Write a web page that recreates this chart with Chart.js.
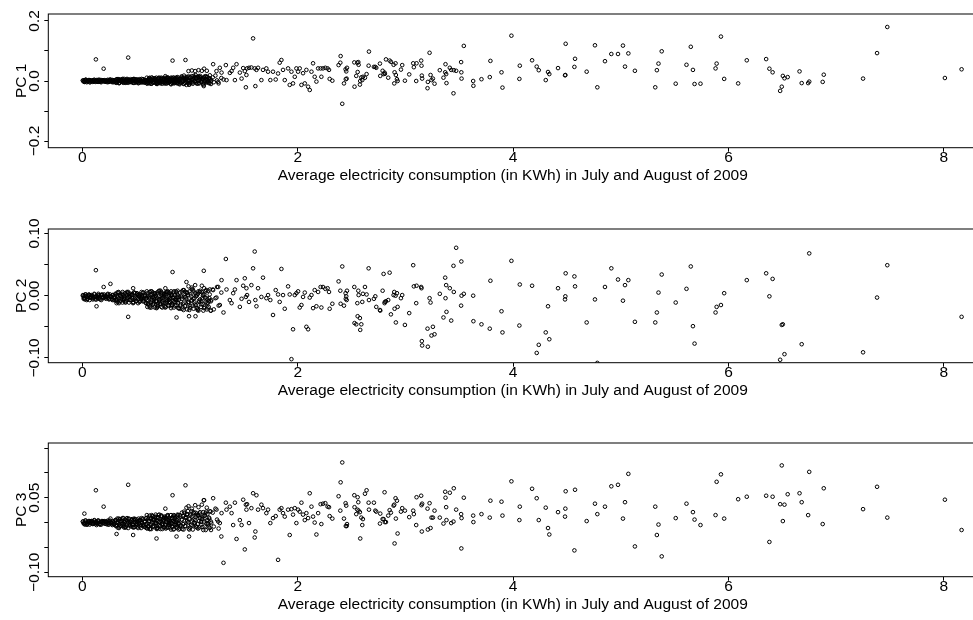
<!DOCTYPE html>
<html>
<head>
<meta charset="utf-8">
<script src="https://cdn.jsdelivr.net/npm/chart.js@4/dist/chart.umd.min.js"></script>
<style>
  html, body { margin: 0; padding: 0; background: #fff; overflow: hidden; }
  #wrap { position: relative; width: 973px; height: 620px; overflow: hidden; }
  canvas { position: absolute; left: 0; }
</style>
</head>
<body>
<div id="wrap">
  <canvas id="pc1-chart" width="980" height="191" style="top:0px"></canvas>
  <canvas id="pc2-chart" width="980" height="191" style="top:215px"></canvas>
  <canvas id="pc3-chart" width="980" height="191" style="top:429.3px"></canvas>
</div>
<script>
// average consumption (kWh) per household, same x for the three panels
const consumption = [
  // dense band
  0.005,0.018,0.03,0.045,0.06,0.072,0.088,0.1,0.115,0.13,0.145,0.16,0.175,0.19,0.205,0.22,0.235,0.25,0.265,0.28,0.295,
  0.305,0.312,0.32,0.327,0.335,0.342,0.35,0.357,0.365,0.372,0.38,0.387,0.395,0.402,0.41,0.417,0.425,0.432,0.44,0.447,0.455,0.462,0.47,0.477,0.485,0.492,0.5,0.507,0.515,0.522,0.53,0.537,0.545,0.552,0.56,0.567,0.575,0.582,0.59,0.597,
  0.605,0.612,0.62,0.627,0.635,0.642,0.65,0.657,0.665,0.672,0.68,0.687,0.695,0.702,0.71,0.717,0.725,0.732,0.74,0.747,0.755,0.762,0.77,0.777,0.785,0.792,0.8,0.807,0.815,0.822,0.83,0.837,0.845,0.852,0.86,0.867,0.875,0.882,0.89,0.897,
  0.905,0.912,0.92,0.927,0.935,0.942,0.95,0.957,0.965,0.972,0.98,0.987,0.995,1.002,1.01,1.017,1.025,1.032,1.04,1.047,1.055,1.062,1.07,1.077,1.085,1.092,1.1,1.107,1.115,1.122,1.13,1.137,1.145,1.152,1.16,1.167,1.175,1.182,1.19,1.197,
  1.21,1.22,1.235,1.25,1.265,
  0.985,1.016,1.047,1.078,1.109,1.13,1.155,
  0.125,0.197,0.26,0.425,0.837,0.957,1.127,0.131,0.874,0.99,1.05,0.018,0.317,0.471,0.688,0.77,0.966,
  // 1.2 - 2.2
  1.214,1.245,1.276,1.292,1.332,1.369,1.385,1.4,1.431,1.462,1.493,1.508,1.523,1.529,1.547,1.569,1.585,1.6,1.616,1.631,
  1.677,1.708,1.724,1.745,1.77,1.795,1.817,1.832,1.848,1.863,1.879,1.91,1.925,1.941,1.956,1.972,1.987,2.003,2.018,2.034,
  2.049,2.065,2.08,2.096,2.111,2.127,2.142,2.157,2.173,2.189,1.261,1.338,1.416,1.478,1.518,1.606,1.662,1.31,1.29,
  // 2.2 - 5.2
  2.212,2.234,2.256,2.277,2.29,2.219,2.296,2.321,2.379,2.398,
  2.395,2.413,2.429,2.444,2.45,2.457,2.446,2.454,2.525,2.527,
  2.543,2.553,2.562,2.565,2.556,2.577,2.58,2.59,2.605,2.599,
  2.624,2.639,2.658,2.661,2.707,2.72,2.729,2.763,2.766,2.788,
  2.797,2.806,2.809,2.819,2.84,2.853,2.865,2.89,2.896,2.899,
  2.911,2.908,2.921,2.927,2.958,2.97,2.995,3.035,3.072,3.078,
  3.1,3.103,3.146,3.149,3.152,3.155,3.205,3.208,3.224,3.233,
  3.242,3.255,3.27,3.319,3.353,3.369,3.372,3.378,3.381,3.412,
  3.425,3.449,3.471,3.446,3.517,3.519,3.521,3.542,3.629,3.631,
  3.706,3.783,3.789,3.892,3.901,3.984,4.062,4.058,4.176,4.219,
  4.238,4.303,4.324,4.336,4.417,4.485,4.488,4.482,4.569,4.575,
  4.683,4.76,4.782,4.853,4.912,4.974,5.02,5.039,5.07,5.131,
  // 5.3 and up
  5.32,5.335,5.35,5.38,5.51,5.61,5.65,5.67,5.685,5.74,5.88,5.89,5.93,5.96,6.09,6.17,6.35,6.38,6.41,6.48,
  6.495,6.505,6.52,6.55,6.66,6.68,6.74,6.75,6.875,6.885,7.25,7.38,7.475,8.01,8.165,
  // more of the dense band
  0.012,0.026,0.04,0.054,0.068,0.082,0.096,0.11,0.124,0.138,0.152,0.166,0.18,0.194,0.208,0.222,0.236,0.25,0.264,0.278,
  0.309,0.324,0.339,0.354,0.369,0.384,0.399,0.414,0.429,0.444,0.459,0.474,0.489,0.504,0.519,0.534,0.549,0.564,0.579,0.594,
  0.609,0.624,0.639,0.654,0.669,0.684,0.699,0.714,0.729,0.744,0.759,0.774,0.789,0.804,0.819,0.834,0.849,0.864,0.879,0.894,
  0.909,0.924,0.939,0.954,0.969,0.984,0.999,1.014,1.029,1.044,1.059,1.074,1.089,1.104,1.119,1.134,1.149,1.164,1.179,1.194,
  0.004,0.013,0.022,0.031,0.04,0.049,0.058,0.067,0.076,0.085,0.094,0.103,0.112,0.121,0.13,0.139,0.148,0.157,0.166,0.175,0.184,0.193,0.202,0.211,0.22,0.229,0.238,0.247,0.256,0.265,0.274,0.283,0.292,
  0.301,0.31,0.319,0.328,0.337,0.346,0.355,0.364,0.373,0.382,0.391,0.4,0.409,0.418,0.427,0.436,0.445,0.454,0.463,0.472,0.481,0.49,0.499,0.508,0.517,0.526,0.535,0.544,0.553,0.562,0.571,0.58,0.589,
  0.598,0.607,0.616,0.625,0.634,0.643,0.652,0.661,0.67,0.679,0.688,0.697,0.706,0.715,0.724,0.733,0.742,0.751,0.76,0.769,0.778,0.787,0.796,0.805,0.814,0.823,0.832,0.841,0.85,0.859,0.868,0.877,0.886,0.895,
  0.603,0.613,0.623,0.633,0.643,0.653,0.663,0.673,0.683,0.693,0.703,0.713,0.723,0.733,0.743,0.753,0.763,0.773,0.783,0.793,0.803,0.813,0.823,0.833,0.843,0.853,0.863,0.873,0.883,0.893,
  0.903,0.913,0.923,0.933,0.943,0.953,0.963,0.973,0.983,0.993,1.003,1.013,1.023,1.033,1.043,1.053,1.063,1.073,1.083,1.093,1.103,1.113,1.123,1.133,1.143,1.153,1.163,1.173,1.183,1.193
];

const pc1 = [
  .001,-.003,.004,0,.002,-.004,0,.003,-.002,.001,-.003,.004,-.001,.002,-.002,0,-.004,.002,-.001,.003,-.002,
  .001,-.005,.006,-.001,.004,-.007,0,.005,-.003,.002,-.006,.007,-.002,.004,-.004,.001,-.006,.003,-.002,.006,-.004,.002,0,.007,-.006,.001,.005,-.003,.003,-.007,.006,-.001,0,-.005,.005,-.002,.004,-.005,.002,-.001,
  .003,-.006,.010,0,.006,-.009,.001,.008,-.003,.004,-.007,.011,-.002,.007,-.005,.002,-.008,.006,-.002,.009,-.005,.005,.001,.011,-.008,.003,.008,-.004,.005,-.009,.010,-.001,.002,-.006,.009,-.003,.007,-.007,.004,-.001,
  .006,-.006,.015,.002,.010,-.010,.003,.012,-.002,.007,-.007,.015,0,.011,-.004,.004,-.009,.009,-.001,.013,-.005,.008,.002,.016,-.008,.005,.011,-.003,.008,-.009,.014,0,.004,-.005,.013,-.002,.010,-.007,.006,.001,
  .012,-.004,.018,.002,-.008,
  .033,.035,.033,.036,.034,.041,.034,
  .072,.041,.005,.078,.068,.070,-.017,.003,.012,-.012,.02,.002,-.006,.006,-.009,.016,-.013,
  .056,.033,.044,.028,.053,.027,.033,.044,.056,.028,.043,.033,.02,.042,.044,.045,.142,.042,.037,.044,
  .037,.042,.031,.003,.031,.005,.025,.061,.07,.037,.003,.042,-.013,.031,-.008,.014,.042,.031,.042,-.013,
  .026,-.008,.037,-.019,-.03,.031,.059,.014,-.002,.042,-.003,.003,.003,.008,-.021,-.017,.003,.005,.01,
  .042,.042,.044,.042,.037,.014,.007,.001,.053,.083,
  .061,-.076,-.008,.039,.032,.044,.006,.008,.062,-.019,
  .017,.061,.063,.054,.03,-.012,0,.012,.014,.003,
  .011,.023,.051,.098,.047,.047,.044,.058,.017,.034,
  .023,.028,.024,.072,.011,.068,.064,.054,-.008,.029,
  .02,.059,.006,0,.038,.053,.001,.022,.059,.046,
  0,.059,.068,.051,.018,.008,-.024,-.003,.094,.02,
  .003,.008,-.009,.036,.011,.029,.056,.023,-.007,.044,
  .037,.036,.034,-.041,.063,.029,.008,.117,0,-.016,
  .006,.013,.067,.029,-.022,.151,.051,.007,.069,.048,
  .036,.003,.03,.023,.043,.02,.124,.019,.047,.074,
  .031,.119,-.021,.066,.09,.09,.118,.048,.092,.034,
  -.021,.036,.058,.099,-.009,.054,.114,.037,-.01,-.009,.042,.058,.148,.007,-.008,.069,.073,.041,.029,-.033,
  -.019,.017,.009,.013,.032,-.007,-.007,-.002,-.003,.021,.008,.093,.18,.01,.039,
  -.002,.003,-.004,.001,.003,-.001,-.003,.004,0,-.002,.002,-.003,.003,0,.002,-.003,.004,-.001,.001,-.004,
  -.004,.006,-.007,.002,.005,-.001,-.005,.007,.001,-.003,.004,-.006,.005,-.001,.003,-.005,.007,-.002,.001,-.007,
  -.004,.010,-.009,.004,.008,-.001,-.007,.011,.002,-.003,.007,-.008,.009,0,.005,-.006,.011,-.002,.003,-.009,
  -.004,.014,-.009,.007,.011,0,-.007,.016,.004,-.002,.010,-.008,.013,.002,.008,-.005,.015,-.001,.006,-.010,
  .002,-.001,-.003,.004,0,-.002,.003,-.004,.001,.002,-.001,0,.003,-.003,.001,-.001,.004,-.002,.001,-.004,.002,0,.003,-.002,.001,.002,-.001,-.003,.004,0,-.002,.003,-.004,
  .002,.004,-.002,0,.006,-.005,.002,-.002,.007,-.004,.001,-.006,.004,0,.005,-.003,.002,.003,-.001,-.006,.006,0,-.004,.005,-.007,.002,.004,-.002,0,.006,-.005,.002,-.002,
  .011,-.005,.003,-.008,.006,.001,.009,-.004,.004,.006,-.001,-.007,.010,.002,-.004,.008,-.009,.004,.007,-.003,.001,.010,-.006,.005,-.002,.011,-.005,.003,-.008,.006,.001,.009,-.004,.004,
  -.009,.006,.002,-.003,.012,-.006,.004,.009,-.001,-.010,.008,.001,-.005,.011,-.002,.005,-.008,.008,0,.012,-.004,.003,-.011,.007,.011,-.003,.002,-.007,.013,0,
  -.011,.009,.005,-.003,.018,-.007,.007,.014,.001,-.012,.012,.003,-.005,.017,-.001,.009,-.009,.013,.002,.017,-.003,.005,-.013,.011,.016,-.002,.004,-.007,.019,.001
];

const pc2 = [
  .001,-.004,-.001,-.005,.002,-.003,0,-.004,-.002,-.006,0,-.003,.001,-.004,-.001,-.002,.002,-.005,-.001,.001,-.004,
  .003,-.007,0,-.010,.006,-.005,.002,-.008,-.002,-.011,.001,-.006,.004,-.008,0,-.003,.006,-.011,-.002,.003,-.007,.001,-.012,.005,-.005,-.003,-.009,.004,-.006,.002,-.010,-.001,-.004,-.001,-.009,.005,-.004,.002,-.012,-.003,
  .004,-.012,-.002,-.017,.007,-.010,.002,-.014,-.005,-.019,0,-.010,.005,-.014,-.001,-.007,.008,-.018,-.004,.003,-.012,0,-.019,.006,-.009,-.005,-.015,.005,-.011,.002,-.017,-.003,-.008,-.003,-.016,.007,-.007,.001,-.020,-.006,
  .005,-.014,-.002,-.021,.009,-.011,.003,-.016,-.005,-.022,.001,-.012,.007,-.017,-.001,-.008,.010,-.021,-.004,.004,-.015,0,-.023,.007,-.010,-.006,-.018,.006,-.013,.002,-.020,-.003,-.010,-.004,-.019,.008,-.009,.002,-.024,-.007,
  .010,-.022,-.004,.014,-.016,
  .015,.013,.017,-.024,.016,.012,-.022,
  .041,.014,.019,-.034,.038,.006,.040,-.017,-.035,-.033,-.033,0,-.012,.012,-.02,.012,.022,
  .009,-.003,-.015,.025,.059,-.007,-.012,.004,.025,-.018,.016,.028,.012,.001,-.01,.017,.044,.071,-.017,.012,
  .029,-.004,.001,-.007,-.031,.009,.002,-.01,.043,.001,-.021,.015,.002,-.102,-.054,.001,.004,.007,-.019,-.015,
  -.002,.005,-.05,-.054,-.003,.001,-.02,.009,-.017,.006,.014,.01,.01,-.005,-.002,-.007,-.002,-.027,.005,
  .014,.014,.011,.012,.006,-.019,-.021,-.013,.023,-.013,
  .008,.047,-.016,.004,-.001,.008,-.005,-.007,.014,-.044,
  -.046,-.012,.008,.001,-.033,-.036,-.055,-.046,.003,-.01,
  .014,.002,.044,-.007,-.005,-.001,-.018,-.023,-.024,.008,
  .035,-.012,-.01,-.009,-.007,.037,-.03,.001,.006,-.021,
  -.043,0,.004,-.018,-.004,.001,-.047,-.028,.049,.015,
  -.012,.016,.014,.012,-.073,-.08,-.053,-.082,-.004,-.011,
  -.064,-.05,-.062,.003,-.035,.029,-.004,.017,-.026,.012,
  -.04,.006,.077,.048,-.016,.055,0,.003,0,-.041,
  -.046,-.053,.024,-.025,-.059,.056,.018,-.048,.016,-.092,
  -.079,-.059,-.017,-.07,.012,-.001,.036,-.006,.031,.015,
  -.043,-.006,-.108,.014,.044,.026,-.008,.017,.025,-.042,
  -.043,-.027,.005,.034,-.011,.011,.047,-.049,-.077,null,-.027,-.018,-.015,.004,null,.025,.036,-.001,.027,-.103,
  -.047,-.046,-.094,null,null,-.078,null,.068,null,null,-.091,-.003,.049,null,-.034,
  -.005,.002,-.007,-.001,.001,-.003,-.006,.003,-.002,-.004,.001,-.006,.002,-.003,0,-.005,.003,-.004,-.001,-.007,
  -.008,.005,-.012,0,.003,-.005,-.010,.006,-.002,-.007,.002,-.011,.004,-.004,.001,-.009,.006,-.006,-.001,-.012,
  -.013,.006,-.019,-.002,.003,-.009,-.017,.008,-.005,-.012,.002,-.018,.005,-.007,0,-.015,.007,-.010,-.003,-.020,
  -.016,.007,-.023,-.002,.004,-.010,-.020,.010,-.005,-.014,.002,-.021,.006,-.009,0,-.018,.009,-.012,-.004,-.024,
  0,-.003,-.006,.002,-.002,-.005,.001,-.007,-.001,.001,-.004,-.002,.002,-.006,0,-.003,.003,-.005,-.001,-.007,.001,-.002,.002,-.004,-.001,0,-.003,-.006,.002,-.002,-.005,.001,-.007,
  -.001,.002,-.006,-.003,.005,-.009,0,-.005,.006,-.008,-.002,-.011,.002,-.003,.004,-.007,0,.001,-.004,-.010,.005,-.003,-.008,.003,-.012,-.001,.002,-.006,-.003,.005,-.009,0,-.005,
  .007,-.014,-.004,-.019,.001,-.007,.005,-.012,-.002,0,-.008,-.017,.007,-.005,-.013,.004,-.019,-.003,.002,-.011,-.006,.006,-.016,-.001,-.010,.007,-.014,-.004,-.019,.001,-.007,.005,-.012,-.002,
  -.018,0,-.005,-.011,.007,-.014,-.003,.004,-.008,-.019,.002,-.006,-.013,.006,-.010,-.001,-.017,.002,-.007,.007,-.012,-.004,-.020,.001,.005,-.010,-.005,-.015,.008,-.007,
  -.021,0,-.005,-.013,.009,-.017,-.003,.005,-.010,-.023,.002,-.007,-.016,.007,-.011,-.001,-.020,.003,-.008,.008,-.014,-.004,-.024,.002,.007,-.012,-.006,-.018,.010,-.009
];

const pc3 = [
  .002,-.002,0,-.004,.002,-.001,.003,-.002,.001,0,.004,-.003,.001,.003,-.002,.002,-.004,.003,-.001,0,-.003,
  .005,-.007,0,-.010,.004,-.004,.007,-.007,.003,-.002,.009,-.010,.001,.006,-.006,.003,-.011,.008,-.003,0,-.008,.007,-.005,.005,-.009,.002,-.003,.001,-.008,.008,-.002,.004,-.011,-.001,.006,-.005,.002,-.009,.009,-.004,
  .010,-.007,.003,-.013,.008,-.004,.013,-.008,.006,0,.016,-.012,.003,.011,-.006,.007,-.013,.014,-.002,.002,-.009,.012,-.004,.009,-.010,.005,-.001,.004,-.010,.015,-.001,.009,-.014,.001,.012,-.005,.006,-.011,.015,-.003,
  .015,-.006,.006,-.013,.013,-.002,.019,-.007,.011,.003,.023,-.012,.007,.016,-.005,.012,-.014,.020,0,.005,-.008,.018,-.003,.014,-.010,.009,.001,.008,-.009,.021,.002,.014,-.015,.004,.017,-.004,.010,-.011,.022,-.001,
  .020,-.008,.028,.006,-.012,
  .033,.028,.035,.031,.036,.045,.030,
  .065,.032,.008,.076,.055,.075,.045,-.005,-.028,-.028,.02,.018,-.023,-.025,-.032,.028,.03,
  .049,.026,-.001,.019,.04,.032,.019,-.005,-.033,.005,.046,-.054,.026,.037,-.001,.029,.059,-.03,.055,.026,
  .029,.019,.026,-.001,.009,.013,-.075,.026,.029,.019,.012,.026,-.025,.027,.016,.029,-.001,.026,.022,.04,
  .016,.005,.019,.009,.059,.032,.012,0,-.024,.019,.002,.026,.04,-.005,.036,-.018,.036,-.081,-.028,
  .037,.038,.039,.032,.031,-.003,.013,.008,.053,.081,
  .024,.121,.008,.039,.034,-.003,-.007,-.007,.055,.031,
  .017,.026,.041,.024,.051,.021,-.032,.01,.007,-.005,
  .058,.065,.04,.026,.04,.024,.022,-.002,.018,.007,
  .007,.061,.001,.001,.014,.025,.02,.034,.036,-.042,
  .008,.049,.044,-.022,.022,.029,.024,.011,.024,.017,
  -.005,.051,.054,.035,-.018,.038,.028,-.014,.039,-.011,
  .01,.01,.024,.01,-.002,.062,.05,.031,.005,.06,
  -.001,.069,.026,.002,.017,-.052,.009,.05,.014,.001,
  .017,.01,.044,.042,.014,.083,.032,.005,.068,.049,
  .005,.03,-.011,-.024,.021,.028,.063,.012,-.056,.066,
  .003,.038,.017,.032,.073,.076,.008,.041,.098,-.048,
  .032,-.025,-.004,-.068,.009,.038,null,.021,.006,-.005,.015,.082,.097,.008,.047,.052,.054,-.039,.052,.037,
  .115,.003,.036,.057,.059,.041,.015,.102,-.003,.069,.027,.072,.010,.046,-.015,
  -.002,.004,-.004,.001,.003,-.001,-.003,.005,0,-.002,.002,-.004,.003,0,.002,-.003,.004,-.001,.001,-.005,
  -.006,.008,-.011,.002,.006,-.003,-.009,.009,0,-.005,.005,-.010,.007,-.002,.003,-.008,.009,-.004,.001,-.011,
  -.007,.014,-.013,.006,.011,-.002,-.010,.016,.003,-.005,.009,-.012,.012,-.001,.007,-.009,.015,-.004,.004,-.014,
  -.006,.020,-.014,.010,.016,0,-.010,.023,.006,-.004,.014,-.012,.018,.002,.012,-.008,.022,-.002,.008,-.015,
  .002,-.001,-.004,.004,0,-.002,.003,-.004,.001,.003,-.002,0,.004,-.003,.002,-.001,.004,-.003,.001,-.004,.002,0,.003,-.002,.001,.002,-.001,-.004,.004,0,-.002,.003,-.004,
  .002,.005,-.005,-.001,.008,-.008,.003,-.004,.009,-.007,.001,-.010,.004,-.002,.007,-.006,.002,.004,-.003,-.009,.008,0,-.006,.006,-.011,.002,.005,-.005,-.001,.008,-.008,.003,-.004,
  .015,-.008,.003,-.013,.009,0,.012,-.006,.006,.008,-.001,-.011,.015,.002,-.007,.012,-.013,.005,.010,-.004,.001,.014,-.010,.006,-.003,.015,-.008,.003,-.013,.009,0,.012,-.006,.006,
  -.012,.007,.003,-.004,.015,-.008,.005,.012,-.001,-.013,.009,.001,-.007,.014,-.003,.006,-.010,.010,0,.015,-.005,.003,-.014,.009,.013,-.004,.002,-.009,.016,-.001,
  -.012,.012,.006,-.003,.022,-.007,.009,.017,.001,-.014,.014,.004,-.006,.020,-.001,.011,-.010,.015,.003,.021,-.004,.007,-.015,.014,.019,-.002,.005,-.008,.023,.002
];

const xTicks = [0, 2, 4, 6, 8];
const pc1Ticks = [-0.2, -0.1, 0, 0.1, 0.2];
const pc1LabelAt = [-0.2, 0, 0.2];
const pc1Labels = ['\u22120.2', '0.0', '0.2'];
const pc2Ticks = [-0.1, -0.05, 0, 0.05, 0.1];
const pc2LabelAt = [-0.1, 0, 0.1];
const pc2Labels = ['\u22120.10', '0.00', '0.10'];
const pc3Ticks = [-0.1, -0.05, 0, 0.05, 0.1, 0.15];
const pc3LabelAt = [-0.1, 0.05];
const pc3Labels = ['\u22120.10', '0.05'];
const xTitle = 'Average electricity consumption (in KWh) in July and August of 2009';

const family = '"Liberation Sans", Arial, Helvetica, sans-serif';
const fontSize = 15.5;

// box around the plot + rotated y labels like base R
const frame = {
  id: 'frame',
  afterDraw(chart, args, opts) {
    const { ctx, chartArea: a } = chart;
    const y = chart.scales.y;
    ctx.save();
    ctx.strokeStyle = '#000';
    ctx.lineWidth = 1;
    ctx.strokeRect(a.left, a.top, a.right - a.left, a.bottom - a.top);
    ctx.fillStyle = '#000';
    ctx.font = fontSize + 'px ' + family;
    ctx.textAlign = 'center';
    ctx.textBaseline = 'alphabetic';
    opts.labelAt.forEach((v, i) => {
      ctx.save();
      ctx.translate(a.left - 9, y.getPixelForValue(v));
      ctx.rotate(-Math.PI / 2);
      ctx.fillText(opts.labels[i], 0, 0);
      ctx.restore();
    });
    ctx.translate(a.left - 22.6, (a.top + a.bottom) / 2);
    ctx.rotate(-Math.PI / 2);
    ctx.fillText(opts.title, 0, 0);
    ctx.restore();
  }
};

function makePanel(id, values, yMin, yMax, yTicks, labelAt, labels, title) {
  return new Chart(document.getElementById(id), {
    type: 'scatter',
    data: {
      datasets: [{
        data: consumption.map((x, i) => ({ x: x, y: values[i] })),
        pointRadius: 1.8,
        pointHoverRadius: 1.8,
        borderWidth: 1,
        borderColor: '#000',
        backgroundColor: 'rgba(0,0,0,0)'
      }]
    },
    options: {
      responsive: false,
      animation: false,
      events: [],
      layout: { padding: { top: 14, right: 2, left: 0, bottom: 0 } },
      plugins: {
        legend: { display: false },
        tooltip: { enabled: false },
        frame: { labelAt: labelAt, labels: labels, title: title }
      },
      scales: {
        x: {
          type: 'linear',
          min: -0.317,
          max: 8.31,
          afterBuildTicks: s => { s.ticks = xTicks.map(v => ({ value: v })); },
          afterFit: s => { s.height = 43.3; },
          grid: { drawOnChartArea: false, drawTicks: true, tickLength: 4, color: '#000', tickColor: '#000', lineWidth: 1 },
          border: { display: false },
          ticks: { color: '#000', font: { family: family, size: fontSize }, padding: -3.2, maxRotation: 0, autoSkip: false },
          title: { display: true, text: xTitle, color: '#000', font: { family: family, size: fontSize }, padding: { top: 0, bottom: 6.2 } }
        },
        y: {
          type: 'linear',
          min: yMin,
          max: yMax,
          afterBuildTicks: s => { s.ticks = yTicks.map(v => ({ value: v })); },
          afterFit: s => { s.width = 48.3; },
          grid: { drawOnChartArea: false, drawTicks: true, tickLength: 4, color: '#000', tickColor: '#000', lineWidth: 1 },
          border: { display: false },
          ticks: { display: false }
        }
      }
    },
    plugins: [frame]
  });
}

makePanel('pc1-chart', pc1, -0.2223, 0.2233, pc1Ticks, pc1LabelAt, pc1Labels, 'PC 1');
makePanel('pc2-chart', pc2, -0.1077, 0.1072, pc2Ticks, pc2LabelAt, pc2Labels, 'PC 2');
makePanel('pc3-chart', pc3, -0.1089, 0.1601, pc3Ticks, pc3LabelAt, pc3Labels, 'PC 3');
</script>
</body>
</html>
